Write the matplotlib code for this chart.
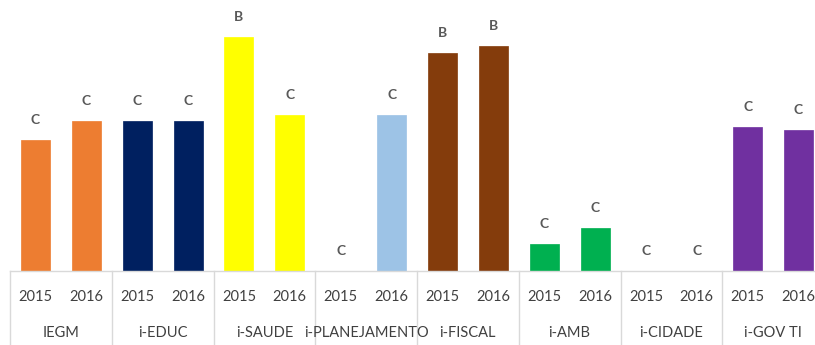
import matplotlib
matplotlib.use("Agg")
import matplotlib.pyplot as plt
from matplotlib.transforms import blended_transform_factory

groups = ["IEGM", "i-EDUC", "i-SAUDE", "i-PLANEJAMENTO", "i-FISCAL", "i-AMB", "i-CIDADE", "i-GOV TI"]
years = ["2015", "2016"]
values_2015 = [131, 150, 234, 0, 218, 27, 0, 144]
values_2016 = [150, 150, 156, 156, 225, 43, 0, 141]
grades_2015 = ["C", "C", "B", "C", "B", "C", "C", "C"]
grades_2016 = ["C", "C", "C", "C", "B", "C", "C", "C"]
colors = ["#ED7D31", "#002060", "#FFFF00", "#9DC3E6", "#843C0C", "#00B050", "#FFFFFF", "#7030A0"]

FONT = ["Lato", "DejaVu Sans"]
plt.rcParams['font.family'] = FONT

W, H = 815, 345
fig = plt.figure(figsize=(W / 100, H / 100), dpi=100)
base_px = 271
left_px = 10
gw = 101.75
ax = fig.add_axes([left_px / W, (H - base_px) / H, 8 * gw / W, base_px / H])
ax.set_xlim(-0.5, 15.5)
ax.set_ylim(0, base_px)
for s in ax.spines.values():
    s.set_visible(False)
ax.set_xticks([])
ax.set_yticks([])

txtc = "#404040"
bw = 0.57
for i, g in enumerate(groups):
    for j, (vals, grades) in enumerate([(values_2015, grades_2015), (values_2016, grades_2016)]):
        x = 2 * i + j
        v = vals[i]
        if v > 0:
            ax.bar(x, v, width=bw, color=colors[i], edgecolor=colors[i], linewidth=0.5, zorder=2)
        ax.annotate(grades[i], (x, v), xytext=(0, 14.4), textcoords="offset points",
                    ha="center", va="center", fontsize=10, fontweight="bold", color="#595959")

trans = blended_transform_factory(ax.transData, ax.transAxes)
# baseline
ax.plot([-0.5, 15.5], [0, 0], transform=trans, color="#D9D9D9", lw=1, clip_on=False)
bottom = -(H - base_px) / base_px
for k in range(9):
    xs = 2 * k - 0.5
    ax.plot([xs, xs], [0, bottom], transform=trans, color="#D9D9D9", lw=1, clip_on=False)

y_year = -26 / base_px
y_grp = -62 / base_px
for i, g in enumerate(groups):
    for j, yr in enumerate(years):
        ax.text(2 * i + j, y_year, yr, transform=trans, ha="center", va="center",
                fontsize=10.5, color=txtc)
    ax.text(2 * i + 0.5, y_grp, g, transform=trans, ha="center", va="center",
            fontsize=10.5, color=txtc)

fig.savefig("out.png", dpi=100)
